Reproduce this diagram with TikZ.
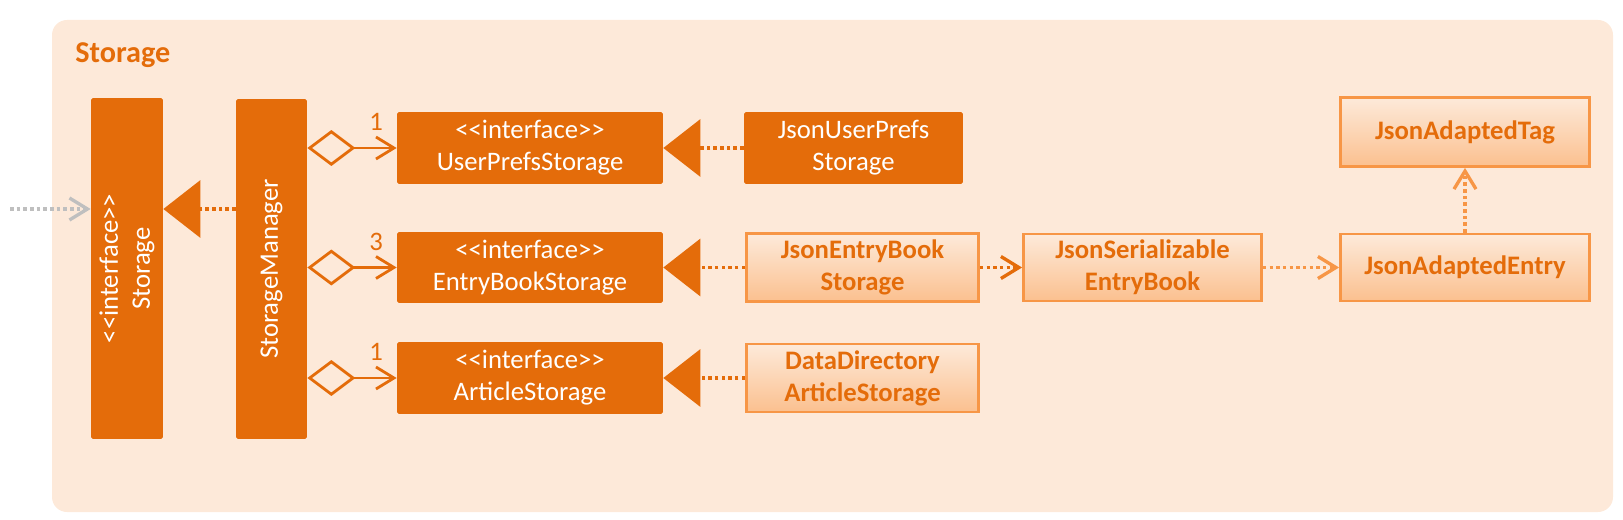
\documentclass[tikz,border=0pt]{standalone}
\usepackage{fontspec}
\setmainfont{Carlito}
\usetikzlibrary{positioning}
\usetikzlibrary{arrows.meta}

\definecolor{stdark}{HTML}{E46C0A}
\definecolor{stlight}{HTML}{F79646}
\definecolor{stbg}{HTML}{FDE9D9}
\definecolor{sttop}{HTML}{FDEADA}
\definecolor{stbot}{HTML}{FBC08F}
\definecolor{stgrey}{HTML}{BFBFBF}

\tikzset{
	darkbox/.style={fill=stdark, text=white, rounded corners=1pt, align=center, inner sep=0pt,
		font=\fontsize{15.2}{18.2}\selectfont},
	lightbox/.style={draw=stlight, line width=1.6pt, top color=sttop, bottom color=stbot,
		text=stdark, align=center, inner sep=0pt, font=\fontsize{15.2}{18.2}\selectfont\bfseries},
	dots/.style={line width=1.9pt, dash pattern=on 2pt off 1.8pt},
	realize/.style={dots, stdark, -{Triangle[length=0.74cm, width=1.14cm]}},
	depend/.style={dots, -{Straight Barb[length=0.36cm, width=0.44cm]}},
	agg/.style={line width=1.6pt, stdark,
		{Diamond[open, length=0.96cm, width=0.72cm]}-{Straight Barb[length=0.36cm, width=0.44cm]}},
	mult/.style={text=stdark, inner sep=0pt, font=\fontsize{15.2}{18.2}\selectfont},
}

\begin{document}
\begin{tikzpicture}[x=.02cm, y=-.02cm]
	\useasboundingbox (0,0) rectangle (1623,520);
	\fill[stbg, rounded corners=0.3cm] (52,20) rectangle (1613,512);
	\node[anchor=west, inner sep=0pt, text=stdark, font=\fontsize{17.2}{20}\selectfont\bfseries] (ttl) at (75,55) {Storage};

	% left column (rotated: north is the left side, south the right side)
	\node[darkbox, rotate=90, minimum width=6.82cm, minimum height=1.44cm] (stor) at (127,268.5) {<{}<interface>{}>\\Storage};
	\node[darkbox, rotate=90, minimum width=6.8cm, minimum height=1.42cm] (mgr) at (271.5,269) {StorageManager};

	% interfaces
	\node[darkbox, minimum width=5.32cm, minimum height=1.44cm] (ups) at (530,148) {<{}<interface>{}>\\UserPrefsStorage};
	\node[darkbox, minimum width=5.32cm, minimum height=1.42cm] (ebs) at (530,267.5) {<{}<interface>{}>\\EntryBookStorage};
	\node[darkbox, minimum width=5.32cm, minimum height=1.44cm] (ars) at (530,378) {<{}<interface>{}>\\ArticleStorage};

	% implementations
	\node[darkbox, minimum width=4.38cm, minimum height=1.44cm] (jups) at (853.5,148) {JsonUserPrefs\\Storage};
	\node[lightbox, minimum width=4.64cm, minimum height=1.36cm] (jebs) at (862.5,267.5) {JsonEntryBook\\Storage};
	\node[lightbox, minimum width=4.64cm, minimum height=1.36cm] (ddas) at (862.5,378) {DataDirectory\\ArticleStorage};
	\node[lightbox, minimum width=4.76cm, minimum height=1.34cm] (jseb) at (1142.5,267.5) {JsonSerializable\\EntryBook};
	\node[lightbox, minimum width=4.98cm, minimum height=1.34cm] (jae) at (1465,267.5) {JsonAdaptedEntry};
	\node[lightbox, minimum width=4.98cm, minimum height=1.38cm] (jat) at (1465,132) {JsonAdaptedTag};

	\coordinate (ext) at (10,209);
	\draw[depend, stgrey] (ext) -- (ext -| stor.north);
	\draw[realize] (mgr.north |- ext) -- (stor.south |- ext);

	\draw[agg] (mgr.south |- ups.west) -- node[mult, pos=.77, above=9pt] {1} (ups.west);
	\draw[agg] (mgr.south |- ebs.west) -- node[mult, pos=.77, above=9pt] {3} (ebs.west);
	\draw[agg] (mgr.south |- ars.west) -- node[mult, pos=.77, above=9pt] {1} (ars.west);

	\draw[realize] (jups) -- (ups);
	\draw[realize] (jebs) -- (ebs);
	\draw[realize] (ddas) -- (ars);

	\draw[depend, stdark] (jebs) -- (jseb);
	\draw[depend, stlight] (jseb) -- (jae);
	\draw[depend, stlight] (jae) -- (jat);
\end{tikzpicture}
\end{document}
